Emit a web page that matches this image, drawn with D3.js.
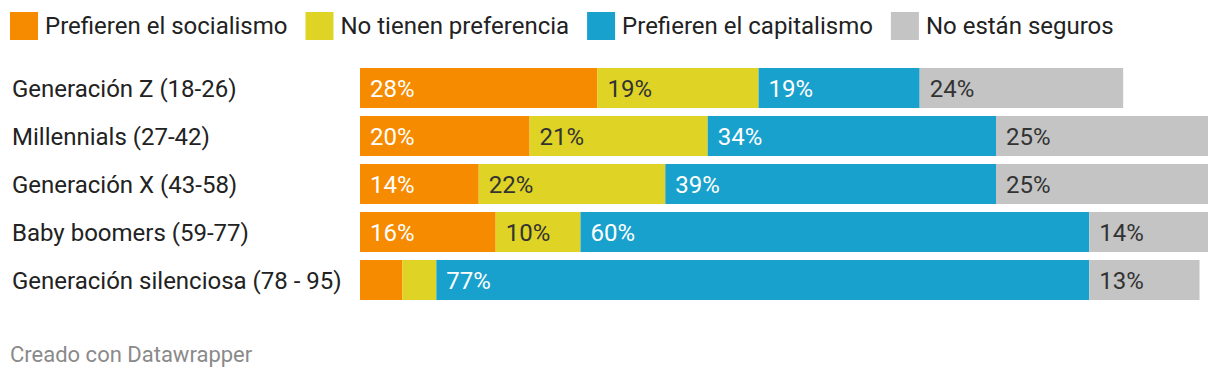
<!DOCTYPE html>
<html><head><meta charset="utf-8">
<script src="https://cdn.jsdelivr.net/npm/d3@7"></script>
<style>
html,body{margin:0;padding:0;background:#fff;}
svg text{font-family:Roboto,"Noto Sans",sans-serif;}
</style></head>
<body><svg id="c" width="1220" height="378"></svg>
<script>
const categories = ["Generación Z (18-26)","Millennials (27-42)","Generación X (43-58)","Baby boomers (59-77)","Generación silenciosa (78 - 95)"];
const seriesNames = ["Prefieren el socialismo","No tienen preferencia","Prefieren el capitalismo","No están seguros"];
const socialismo = [28,20,14,16,5];
const sinPreferencia = [19,21,22,10,4];
const capitalismo = [19,34,39,60,77];
const noSeguros = [24,25,25,14,13];
const colors = ["#f68b00","#dfd325","#19a1cd","#c4c4c4"];
const labelColors = ["#ffffff","#333333","#ffffff","#333333"];
const footer = "Creado con Datawrapper";

const series = [socialismo, sinPreferencia, capitalismo, noSeguros];
const svg = d3.select("#c");
const x = d3.scaleLinear().domain([0,100]).range([360,1208]);
const y = d3.scaleBand().domain(categories).range([64,304]).paddingInner(8/48).paddingOuter(4/48);

// legend
const leg = svg.append("g");
let lx = 10;
seriesNames.forEach((n,i)=>{
  leg.append("rect").attr("x",lx).attr("y",12).attr("width",28).attr("height",28).attr("fill",colors[i]);
  const t = leg.append("text").attr("x",lx+35).attr("y",34).attr("font-size",24).attr("fill","#222").text(n);
  lx += 35 + t.node().getComputedTextLength() + 18;
});

// row labels
svg.append("g").selectAll("text").data(categories).join("text")
  .attr("x",12).attr("y",d=>y(d)+y.bandwidth()/2+8.5)
  .attr("font-size",24).attr("fill","#222").text(d=>d);

// stacked bars
const rows = categories.map((c,ci)=>{
  let acc=0;
  return series.map((s,si)=>{const o={cat:c,si,v:s[ci],x0:acc,x1:acc+s[ci]};acc+=s[ci];return o;});
});
const g = svg.append("g");
rows.flat().forEach(d=>{
  g.append("rect").attr("x",x(d.x0)).attr("y",y(d.cat)).attr("width",x(d.x1)-x(d.x0)).attr("height",y.bandwidth()).attr("fill",colors[d.si]);
  if (x(d.x1)-x(d.x0) > 50) {
    g.append("text").attr("x",x(d.x0)+10).attr("y",y(d.cat)+y.bandwidth()/2+8.5)
      .attr("font-size",24).attr("fill",labelColors[d.si]).text(d.v+"%");
  }
});

svg.append("text").attr("x",10).attr("y",362).attr("font-size",22).attr("fill","#8a8a8a").text(footer);
</script></body></html>
